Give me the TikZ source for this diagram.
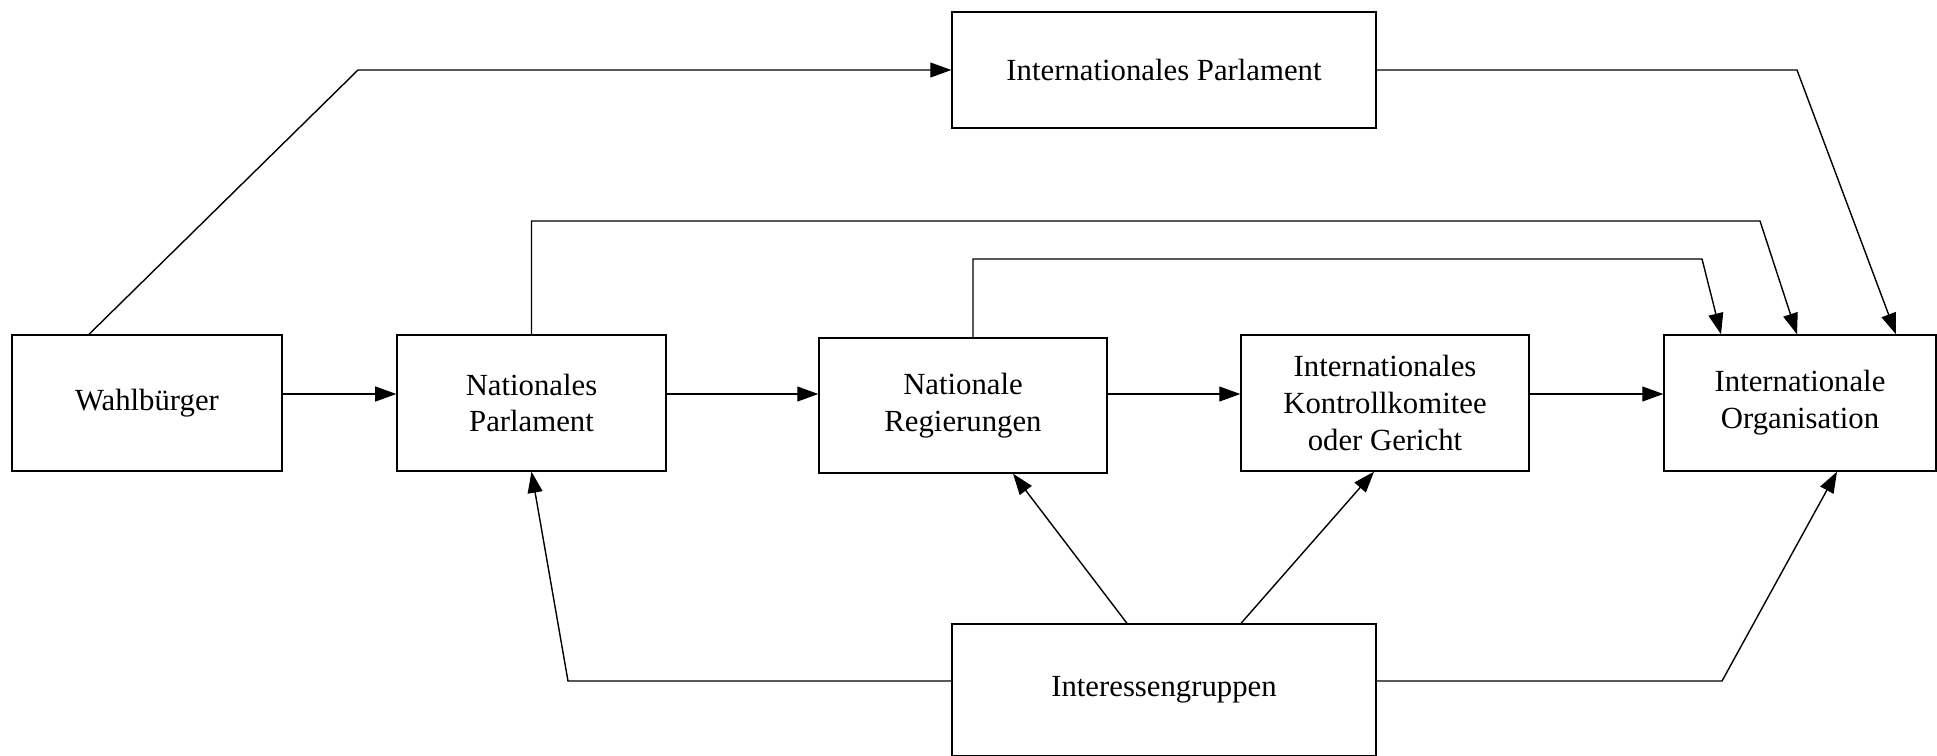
\documentclass[tikz,border=0pt]{standalone}
\usepackage{fontspec}
\setmainfont{Liberation Serif}
\usetikzlibrary{arrows.meta,calc}
\tikzset{
  box/.style={draw,line width=0.8pt,inner sep=0pt,align=center,
    font=\fontsize{17.5}{21}\selectfont},
  arr/.style={line width=0.8pt,-{Triangle[length=12pt,width=8.5pt]}}
}
\begin{document}
\begin{tikzpicture}[x=0.02cm,y=-0.02cm]
      \useasboundingbox (0,0) rectangle (1937,755);
      % boxes, centres in pixel units
      \node[box,minimum width=5.4cm,minimum height=2.72cm] (wahl) at (147,403) {Wahlbürger};
      \node[box,minimum width=5.38cm,minimum height=2.72cm] (natparl) at (531.5,403) {Nationales\\Parlament};
      \node[box,minimum width=5.76cm,minimum height=2.7cm] (natreg) at (963,405.5) {Nationale\\Regierungen};
      \node[box,minimum width=5.76cm,minimum height=2.72cm] (kontroll) at (1385,403) {Internationales\\Kontrollkomitee\\oder Gericht};
      \node[box,minimum width=5.44cm,minimum height=2.72cm] (intorg) at (1800,403) {Internationale\\Organisation};
      \node[box,minimum width=8.48cm,minimum height=2.32cm] (intparl) at (1164,70) {Internationales Parlament};
      \node[box,minimum width=8.48cm,minimum height=2.64cm] (interessen) at (1164,690) {Interessengruppen};
      % upper connectors
      \draw[arr] ($(wahl.north)+(-58,0)$) -- (358,70) -- (intparl.west);
      \draw[arr] (intparl.east) -- (1797,70) -- ($(intorg.north)+(96,0)$);
      \draw[arr] (natparl.north) |- (1760,221) -- ($(intorg.north)+(-3,0)$);
      \draw[arr] ($(natreg.north)+(10,0)$) |- (1702,259) -- ($(intorg.north)+(-79,0)$);
      % chain
      \draw[arr] (wahl.east |- 0,394) -- (natparl.west |- 0,394);
      \draw[arr] (natparl.east |- 0,394) -- (natreg.west |- 0,394);
      \draw[arr] (natreg.east |- 0,394) -- (kontroll.west |- 0,394);
      \draw[arr] (kontroll.east |- 0,394) -- (intorg.west |- 0,394);
      % interest groups
      \draw[arr] (interessen.west |- 0,681) -- (568,681) -- (natparl.south);
      \draw[arr] ($(interessen.north)+(-37,0)$) -- ($(natreg.south)+(50,0)$);
      \draw[arr] ($(interessen.north)+(77,0)$) -- ($(kontroll.south)+(-11,0)$);
      \draw[arr] (interessen.east |- 0,681) -- (1722,681) -- ($(intorg.south)+(37,0)$);
\end{tikzpicture}
\end{document}
